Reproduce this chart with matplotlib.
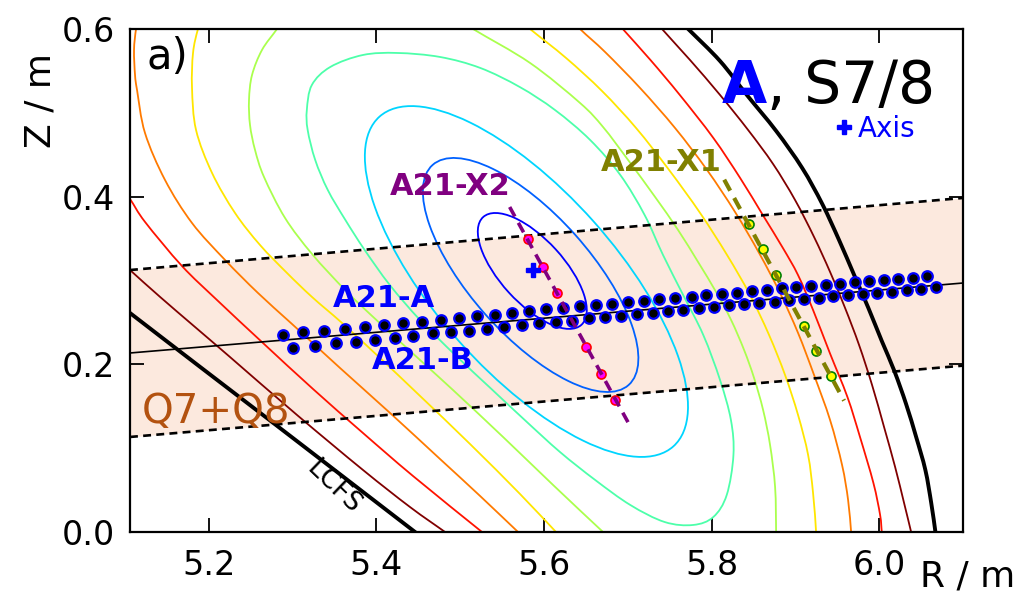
import numpy as np
import matplotlib
matplotlib.use("Agg")
import matplotlib.pyplot as plt
from matplotlib.patches import Ellipse, PathPatch
from matplotlib.path import Path

# ---------------- data (R, Z in m) ----------------
xticks = [5.2, 5.4, 5.6, 5.8, 6.0]
xticklabels = ["5.2", "5.4", "5.6", "5.8", "6.0"]
yticks = [0.0, 0.2, 0.4, 0.6]
yticklabels = ["0.0", "0.2", "0.4", "0.6"]

# inner flux surfaces (tilted ellipses): centre, full axes, tilt
ell_R0 = [5.586, 5.584, 5.579]
ell_Z0 = [0.3115, 0.3067, 0.2989]
ell_w = [0.174, 0.3516, 0.527]
ell_h = [0.076, 0.1432, 0.215]
ell_ang = [-47.6, -48.3, -48.3]

# surface 4 (closed)
s4_R = [5.425, 5.476, 5.524, 5.571, 5.613, 5.655, 5.691, 5.720, 5.742, 5.766, 5.790, 5.810, 5.823,
        5.826, 5.818, 5.802, 5.778, 5.744, 5.703, 5.661, 5.619, 5.577, 5.536, 5.494, 5.452, 5.416,
        5.386, 5.363, 5.342, 5.327, 5.318, 5.317, 5.323, 5.345, 5.384, 5.425]
s4_Z = [0.5716, 0.5668, 0.5537, 0.5310, 0.5036, 0.4678, 0.4260, 0.3783, 0.3305, 0.2828, 0.2351, 0.1814,
        0.1336, 0.0919, 0.0442, 0.0179, 0.0084, 0.0119, 0.0322, 0.0621, 0.0955, 0.1336, 0.1718, 0.2112,
        0.2530, 0.2947, 0.3365, 0.3723, 0.4081, 0.4439, 0.4797, 0.5036, 0.5334, 0.5549, 0.5692, 0.5716]

# surface 5 (green-yellow)
s5a_R = [5.2969, 5.2814, 5.2635, 5.2516, 5.2480, 5.2492, 5.2552, 5.2659, 5.2910, 5.3232, 5.3626,
         5.3948, 5.4521, 5.4914, 5.5511, 5.6108, 5.6704, 5.6848]
s5a_Z = [0.6229, 0.6002, 0.5752, 0.5453, 0.5155, 0.4857, 0.4558, 0.4236, 0.3747, 0.3317, 0.2888,
         0.2578, 0.2052, 0.1694, 0.1134, 0.0561, 0.0, -0.0131]
s5b_R = [5.4759, 5.5153, 5.5833, 5.6430, 5.6704, 5.7003, 5.7325, 5.7599, 5.7838, 5.8053, 5.8232,
         5.8387, 5.8506, 5.8614, 5.8697, 5.8757, 5.8769, 5.8769]
s5b_Z = [0.6253, 0.6002, 0.5597, 0.5119, 0.4833, 0.4439, 0.3998, 0.3604, 0.3222, 0.2864, 0.2530,
         0.2172, 0.1838, 0.1456, 0.1038, 0.0537, 0.0, -0.0143]
# surface 6 (yellow)
s6a_R = [5.1955, 5.1871, 5.1812, 5.1800, 5.1848, 5.2039, 5.2313, 5.2611, 5.2933, 5.3232, 5.3590,
         5.4043, 5.4521, 5.5117, 5.5714, 5.6143, 5.6287]
s6a_Z = [0.6253, 0.6002, 0.5716, 0.5298, 0.4797, 0.4284, 0.3807, 0.3425, 0.3091, 0.2804, 0.2494,
         0.2076, 0.1623, 0.1050, 0.0453, 0.0, -0.0143]
s6b_R = [5.5535, 5.5833, 5.6263, 5.6692, 5.7098, 5.7492, 5.7862, 5.8184, 5.8458, 5.8685, 5.8876,
         5.9031, 5.9151, 5.9210, 5.9246, 5.9246]
s6b_Z = [0.6253, 0.6002, 0.5656, 0.5262, 0.4821, 0.4320, 0.3807, 0.3305, 0.2828, 0.2351, 0.1873,
         0.1396, 0.0919, 0.0465, 0.0, -0.0143]
# surface 7 (orange)
s7a_R = [5.1179, 5.1132, 5.1108, 5.1120, 5.1144, 5.1239, 5.1478, 5.1800, 5.2194, 5.2587, 5.2993,
         5.3566, 5.4163, 5.4759, 5.5237, 5.5690, 5.5833]
s7a_Z = [0.6253, 0.6002, 0.5752, 0.5453, 0.5274, 0.4761, 0.4200, 0.3687, 0.3246, 0.2852, 0.2482,
         0.1957, 0.1420, 0.0871, 0.0430, 0.0, -0.0131]
s7b_R = [5.6191, 5.6430, 5.6728, 5.7146, 5.7563, 5.7945, 5.8279, 5.8566, 5.8816, 5.9031, 5.9222,
         5.9413, 5.9556, 5.9628, 5.9664, 5.9676]
s7b_Z = [0.6253, 0.6002, 0.5728, 0.5298, 0.4821, 0.4320, 0.3819, 0.3329, 0.2852, 0.2375, 0.1873,
         0.1336, 0.0800, 0.0382, 0.0, -0.0143]
# surface 8 (red)
s8a_R = [5.088, 5.106, 5.124, 5.168, 5.2098, 5.2647, 5.3244, 5.3840, 5.4437, 5.5260, 5.5439]
s8a_Z = [0.4224, 0.3974, 0.3699, 0.3174, 0.2768, 0.2255, 0.1706, 0.1181, 0.0668, 0.0, -0.0143]
s8b_R = [5.667, 5.694, 5.727, 5.762, 5.802, 5.834, 5.861, 5.885, 5.903, 5.921, 5.941, 5.962, 5.977,
         5.993, 6.001, 6.003, 6.005]
s8b_Z = [0.6313, 0.6002, 0.5632, 0.5215, 0.4702, 0.4224, 0.3783, 0.3389, 0.3067, 0.2649, 0.2136, 0.1611,
         0.1134, 0.0585, 0.0203, 0.0, -0.0155]
# surface 9 (dark red)
s9a_R = [5.088, 5.106, 5.142, 5.1836, 5.2253, 5.3053, 5.3840, 5.4401, 5.4819, 5.4998]
s9a_Z = [0.3294, 0.3126, 0.2804, 0.2446, 0.2088, 0.1396, 0.0740, 0.0298, 0.0, -0.0131]
s9b_R = [5.7170, 5.7408, 5.7742, 5.8100, 5.8435, 5.8733, 5.8995, 5.9222, 5.9413, 5.9592, 5.9759,
         5.9914, 6.0057, 6.0189, 6.0296, 6.0380, 6.0415]
s9b_Z = [0.6289, 0.6002, 0.5632, 0.5215, 0.4797, 0.4391, 0.3962, 0.3520, 0.3103, 0.2673, 0.2231,
         0.1754, 0.1253, 0.0776, 0.0346, 0.0, -0.0155]
# last closed flux surface
lcfs_a_R = [5.088, 5.106, 5.1895, 5.2731, 5.3566, 5.4461, 5.4664]
lcfs_a_Z = [0.2751, 0.2613, 0.1971, 0.1331, 0.0689, 0.0, -0.0155]
lcfs_b_R = [5.748, 5.772, 5.810, 5.842, 5.877, 5.908, 5.932, 5.952, 5.970, 5.987, 6.003, 6.018,
            6.032, 6.044, 6.055, 6.062, 6.067, 6.069]
lcfs_b_Z = [0.6240, 0.6002, 0.5620, 0.5215, 0.4785, 0.4344, 0.3914, 0.3484, 0.3067, 0.2673, 0.2279,
            0.1921, 0.1527, 0.1134, 0.0740, 0.0346, 0.0, -0.0155]

# Q7+Q8 observation band and central line of sight
band_R = [5.106, 6.0999]
band_top = [0.3126, 0.3986]
band_bot = [0.1134, 0.1985]
los_Z = [0.2136, 0.2971]

# A21-A / A21-B channels
a21a_R = [5.289, 5.312, 5.338, 5.363, 5.386, 5.409, 5.432, 5.454, 5.477, 5.499, 5.520, 5.542, 5.562,
          5.582, 5.602, 5.623, 5.643, 5.662, 5.681, 5.700, 5.719, 5.737, 5.756, 5.776, 5.793, 5.812,
          5.830, 5.848, 5.866, 5.884, 5.901, 5.919, 5.937, 5.953, 5.971, 5.988, 6.006, 6.022, 6.040, 6.057]
a21a_Z = [0.2351, 0.2387, 0.2399, 0.2422, 0.2446, 0.2470, 0.2494, 0.2506, 0.2530, 0.2554, 0.2578, 0.2589,
          0.2613, 0.2637, 0.2661, 0.2673, 0.2697, 0.2709, 0.2721, 0.2745, 0.2757, 0.2780, 0.2792, 0.2804,
          0.2828, 0.2840, 0.2852, 0.2876, 0.2888, 0.2912, 0.2924, 0.2936, 0.2948, 0.2959, 0.2983, 0.2995,
          0.3007, 0.3019, 0.3031, 0.3055]
a21b_R = [5.301, 5.327, 5.352, 5.376, 5.398, 5.422, 5.444, 5.468, 5.489, 5.511, 5.532, 5.552, 5.574,
          5.594, 5.614, 5.633, 5.654, 5.673, 5.692, 5.711, 5.730, 5.748, 5.766, 5.785, 5.803, 5.821,
          5.839, 5.857, 5.875, 5.892, 5.910, 5.928, 5.945, 5.963, 5.981, 5.997, 6.015, 6.033, 6.050, 6.068]
a21b_Z = [0.2196, 0.2220, 0.2255, 0.2267, 0.2291, 0.2315, 0.2339, 0.2375, 0.2387, 0.2399, 0.2422, 0.2446,
          0.2470, 0.2494, 0.2506, 0.2518, 0.2554, 0.2566, 0.2578, 0.2601, 0.2613, 0.2637, 0.2649, 0.2673,
          0.2685, 0.2709, 0.2721, 0.2733, 0.2745, 0.2768, 0.2780, 0.2792, 0.2816, 0.2828, 0.2840, 0.2852,
          0.2864, 0.2888, 0.2900, 0.2924]

# A21-X2 and A21-X1 channels + sight lines
x2_R = [5.581, 5.599, 5.616, 5.650, 5.668, 5.685]
x2_Z = [0.3496, 0.3162, 0.2852, 0.2208, 0.1885, 0.1575]
x2_line_R = [5.559, 5.704]
x2_line_Z = [0.3878, 0.1241]
x1_R = [5.845, 5.861, 5.877, 5.910, 5.925, 5.942]
x1_Z = [0.3675, 0.3371, 0.3067, 0.2464, 0.2164, 0.1862]
x1_line_R = [5.815, 5.958]
x1_line_Z = [0.4204, 0.1567]

axis_R, axis_Z = 5.587, 0.3126


def curve(R, Z, closed=False):
    """Smooth Bezier path through the traced points (drawn by matplotlib)."""
    P = np.column_stack([R, Z]).astype(float)
    n = len(P)
    verts = [P[0]]
    codes = [Path.MOVETO]
    for i in range(n - 1):
        if i > 0:
            p0 = P[i - 1]
        else:
            p0 = P[n - 2] if closed else P[0]
        p1, p2 = P[i], P[i + 1]
        if i + 2 < n:
            p3 = P[i + 2]
        else:
            p3 = P[1] if closed else P[i + 1]
        verts += [p1 + (p2 - p0) / 6.0, p2 - (p3 - p1) / 6.0, p2]
        codes += [Path.CURVE4] * 3
    return Path(verts, codes)


# ---------------- figure ----------------
fig = plt.figure(figsize=(10.25, 5.94), dpi=100)
ax = fig.add_axes([0.12683, 0.10438, 0.81268, 0.84680])
ax.set_xlim(5.106, 6.0999)
ax.set_ylim(0.0, 0.6002)

jet = plt.get_cmap("jet")
cols = [jet(k / 9.0) for k in range(1, 10)]
clw = 1.3

ax.fill_between(band_R, band_bot, band_top, color="#fce9de", lw=0, zorder=1)

for i in range(3):
    ax.add_patch(Ellipse((ell_R0[i], ell_Z0[i]), ell_w[i], ell_h[i], angle=ell_ang[i],
                         fill=False, ec=cols[i], lw=clw, zorder=2))
ax.add_patch(PathPatch(curve(s4_R, s4_Z, closed=True), fill=False, ec=cols[3], lw=clw, zorder=2))
pieces = [(s5a_R, s5a_Z, 4), (s5b_R, s5b_Z, 4), (s6a_R, s6a_Z, 5), (s6b_R, s6b_Z, 5),
          (s7a_R, s7a_Z, 6), (s7b_R, s7b_Z, 6), (s8a_R, s8a_Z, 7), (s8b_R, s8b_Z, 7),
          (s9a_R, s9a_Z, 8), (s9b_R, s9b_Z, 8)]
for r, z, k in pieces:
    ax.add_patch(PathPatch(curve(r, z), fill=False, ec=cols[k], lw=clw, zorder=2))
for r, z in [(lcfs_a_R, lcfs_a_Z), (lcfs_b_R, lcfs_b_Z)]:
    ax.add_patch(PathPatch(curve(r, z), fill=False, ec="black", lw=2.8, zorder=2))

ax.plot(band_R, band_top, color="black", lw=1.9, ls=(0, (3, 2)), zorder=3)
ax.plot(band_R, band_bot, color="black", lw=1.9, ls=(0, (3, 2)), zorder=3)
ax.plot(band_R, los_Z, color="black", lw=1.2, zorder=3)

ax.plot(a21a_R, a21a_Z, ls="none", marker="o", ms=7.6, mfc="black", mec="blue", mew=1.6, zorder=4)
ax.plot(a21b_R, a21b_Z, ls="none", marker="o", ms=7.6, mfc="black", mec="blue", mew=1.6, zorder=4)

ax.plot(x2_R, x2_Z, ls="none", marker="o", ms=6.5, mfc="magenta", mec="red", mew=1.2, zorder=5)
ax.plot(x1_R, x1_Z, ls="none", marker="o", ms=6.5, mfc="yellow", mec="green", mew=1.2, zorder=5)
ax.plot(x2_line_R, x2_line_Z, color="purple", lw=2.6, ls=(0, (3, 2)), zorder=6)
ax.plot(x1_line_R, x1_line_Z, color="olive", lw=3.0, ls=(0, (3, 2)), zorder=6)

ax.plot([axis_R], [axis_Z], ls="none", marker="P", ms=10, color="blue", zorder=7)

# labels
ax.text(0.020, 0.945, "a)", transform=ax.transAxes, fontsize=30, ha="left", va="center")
t2 = ax.text(0.9664, 0.853, ", S7/8", transform=ax.transAxes, fontsize=42,
             ha="right", va="baseline")
fig.canvas.draw()
bb = t2.get_window_extent(renderer=fig.canvas.get_renderer())
xa = ax.transAxes.inverted().transform((bb.x0, bb.y0))[0]
ax.text(xa, 0.853, "A", transform=ax.transAxes, fontsize=42, fontweight="bold",
        color="blue", ha="right", va="baseline")
ax.plot([0.8575], [0.8056], transform=ax.transAxes, ls="none", marker="P", ms=10,
        color="blue", clip_on=False)
ax.text(0.8735, 0.8016, "Axis", transform=ax.transAxes, fontsize=20, color="blue",
        ha="left", va="center")

ax.text(0.3845, 0.6859, "A21-X2", transform=ax.transAxes, fontsize=22, fontweight="bold",
        color="purple", ha="center", va="center")
ax.text(0.6383, 0.7346, "A21-X1", transform=ax.transAxes, fontsize=22, fontweight="bold",
        color="olive", ha="center", va="center")
ax.text(0.3050, 0.4652, "A21-A", transform=ax.transAxes, fontsize=22, fontweight="bold",
        color="blue", ha="center", va="center")
ax.text(0.3511, 0.3400, "A21-B", transform=ax.transAxes, fontsize=22, fontweight="bold",
        color="blue", ha="center", va="center")
ax.text(0.0144, 0.2167, "Q7+Q8", transform=ax.transAxes, fontsize=29, color="#b35210",
        ha="left", va="baseline")
ax.text(0.2437, 0.0895, "LCFS", transform=ax.transAxes, fontsize=19, rotation=-44,
        ha="center", va="center", rotation_mode="anchor")

ax.set_xticks(xticks)
ax.set_xticklabels(xticklabels)
ax.set_yticks(yticks)
ax.set_yticklabels(yticklabels)
ax.tick_params(direction="in", length=10, width=1.3, labelsize=24, top=True, right=True)
ax.tick_params(axis="x", pad=12)
ax.tick_params(axis="y", pad=11)
for s in ax.spines.values():
    s.set_linewidth(1.6)

fig.text(968 / 1025, 1 - 577 / 594, "R / m", fontsize=26, ha="center", va="center")
fig.text(40 / 1025, 1 - 100 / 594, "Z / m", fontsize=26, ha="center", va="center", rotation=90)

fig.savefig("out.png", dpi=100)
